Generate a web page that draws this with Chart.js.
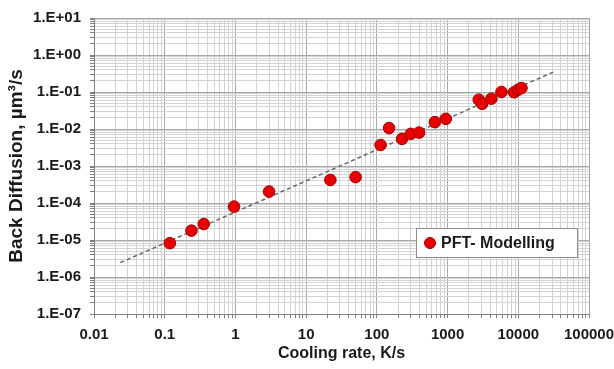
<!DOCTYPE html>
<html>
<head>
<meta charset="utf-8">
<script src="https://cdn.jsdelivr.net/npm/chart.js@4.4.1/dist/chart.umd.min.js"></script>
<style>
  html, body { margin: 0; padding: 0; background: #fff; }
  #wrap { width: 614px; height: 369px; position: relative; }
</style>
</head>
<body>
<div id="wrap"><canvas id="chartDiffusion"></canvas></div>
<script>
// cooling rate (K/s) vs back diffusion (um^3/s)
var coolingRate = [0.118, 0.239, 0.356, 0.955, 2.99, 22, 50, 113, 149, 227, 302, 395, 661, 944, 2760, 3090, 4170, 5780, 8720, 9930, 11100];
var backDiffusion = [8.2e-6, 1.79e-5, 2.7e-5, 8.0e-5, 2.04e-4, 4.2e-4, 5.0e-4, 3.7e-3, 1.06e-2, 5.4e-3, 7.4e-3, 8.0e-3, 1.53e-2, 1.88e-2, 6.2e-2, 4.8e-2, 6.6e-2, 0.100, 0.098, 0.115, 0.128];
// dashed trend line end points
var trendX = [0.0236, 32800];
var trendY = [2.44e-6, 0.36];

var xTickLabels = ['0.01', '0.1', '1', '10', '100', '1000', '10000', '100000'];
var yTickLabels = ['1.E-07', '1.E-06', '1.E-05', '1.E-04', '1.E-03', '1.E-02', '1.E-01', '1.E+00', '1.E+01'];

var FONT = "'Liberation Sans', Arial, sans-serif";

function isMajor(v) {
    var l = Math.log10(v);
    return Math.abs(l - Math.round(l)) < 1e-6;
}

// drop the 1.5x ticks chart.js adds, keep 1..9 per decade
function keepWholeTicks(scale) {
    scale.ticks = scale.ticks.filter(function (t) {
        var m = t.value / Math.pow(10, Math.floor(Math.log10(t.value) + 1e-9));
        return Math.abs(m - Math.round(m)) < 1e-6;
    });
}

var legendBox = {
    id: 'legendBox',
    afterDraw: function (chart) {
        var ctx = chart.ctx, a = chart.chartArea;
        var w = 161, h = 29;
        var x = a.right - 12 - w, y = a.bottom - 57 - h;
        ctx.save();
        ctx.fillStyle = '#fff';
        ctx.fillRect(x, y, w, h);
        ctx.strokeStyle = '#8c8c8c';
        ctx.lineWidth = 1;
        ctx.strokeRect(x + 0.5, y + 0.5, w, h);
        ctx.beginPath();
        ctx.arc(x + 14, y + h / 2 + 0.5, 5.5, 0, Math.PI * 2);
        ctx.fillStyle = '#e80000';
        ctx.fill();
        ctx.strokeStyle = '#a00000';
        ctx.stroke();
        ctx.fillStyle = '#1a1a1a';
        ctx.font = 'bold 16px ' + FONT;
        ctx.textBaseline = 'middle';
        ctx.fillText(chart.data.datasets[0].label, x + 25, y + h / 2 + 1);
        ctx.restore();
    }
};

var points = coolingRate.map(function (v, i) { return { x: v, y: backDiffusion[i] }; });
var trend = trendX.map(function (v, i) { return { x: v, y: trendY[i] }; });

new Chart(document.getElementById('chartDiffusion'), {
    type: 'scatter',
    data: {
        datasets: [{
            label: 'PFT- Modelling',
            data: points,
            pointRadius: 5.8,
            pointBackgroundColor: '#e80000',
            pointBorderColor: '#a00000',
            pointBorderWidth: 1
        }, {
            label: 'trend',
            data: trend,
            showLine: true,
            pointRadius: 0,
            borderColor: '#666666',
            borderWidth: 1.5,
            borderDash: [4, 3]
        }]
    },
    options: {
        responsive: true,
        maintainAspectRatio: false,
        animation: false,
        layout: { padding: { left: 0, right: 25, top: 18, bottom: 0 } },
        plugins: {
            legend: { display: false },
            tooltip: { enabled: false }
        },
        scales: {
            x: {
                type: 'logarithmic',
                min: 0.01,
                max: 100000,
                afterBuildTicks: keepWholeTicks,
                afterFit: function (s) {
                    s.height = 55;
                    s.paddingLeft = 0;
                    s.paddingRight = 0;
                },
                border: { color: '#7f7f7f' },
                grid: {
                    color: function (c) { return isMajor(c.tick.value) ? '#a8a8a8' : '#d3d3d3'; },
                    tickColor: '#7f7f7f',
                    tickLength: 4
                },
                ticks: {
                    autoSkip: false,
                    maxRotation: 0,
                    padding: 8,
                    color: '#1a1a1a',
                    font: { family: FONT, size: 15, weight: 'bold' },
                    callback: function (v) {
                        return isMajor(v) ? xTickLabels[Math.round(Math.log10(v)) + 2] : '';
                    }
                },
                title: {
                    display: true,
                    text: 'Cooling rate, K/s',
                    color: '#1a1a1a',
                    padding: 6,
                    font: { family: FONT, size: 16, weight: 'bold' }
                }
            },
            y: {
                type: 'logarithmic',
                min: 1e-7,
                max: 10,
                afterBuildTicks: keepWholeTicks,
                afterFit: function (s) {
                    s.width = 94;
                    s.paddingTop = 0;
                    s.paddingBottom = 0;
                },
                border: { color: '#7f7f7f' },
                grid: {
                    color: function (c) { return isMajor(c.tick.value) ? '#a8a8a8' : '#d3d3d3'; },
                    tickColor: '#7f7f7f',
                    tickLength: 4
                },
                ticks: {
                    autoSkip: false,
                    padding: 9,
                    color: '#1a1a1a',
                    font: { family: FONT, size: 15, weight: 'bold' },
                    callback: function (v) {
                        return isMajor(v) ? yTickLabels[Math.round(Math.log10(v)) + 7] : '';
                    }
                },
                title: {
                    display: true,
                    text: 'Back Diffusion, µm³/s',
                    color: '#1a1a1a',
                    padding: 5,
                    font: { family: FONT, size: 19, weight: 'bold' }
                }
            }
        }
    },
    plugins: [legendBox]
});
</script>
</body>
</html>
